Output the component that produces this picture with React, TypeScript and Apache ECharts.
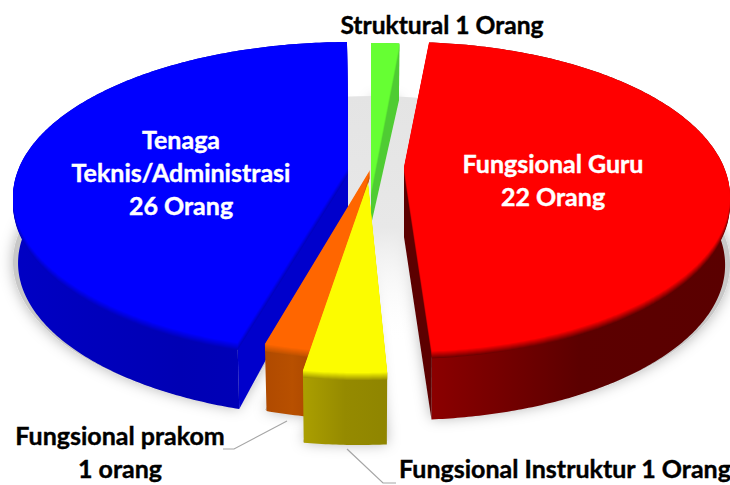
import React, { useEffect, useRef } from "react";
import * as echarts from "echarts";

// Clockwise from the back of the pie.
const categories = ["Fungsional Guru", "Fungsional Instruktur", "Fungsional prakom", "Tenaga Teknis/Administrasi", "Struktural"];
const values = [22, 1, 1, 26, 1];
const total = values.reduce((a, b) => a + b, 0);

// The reference is a stretched 3D picture: slices do not keep their true share of the circle.
const spanTrimDeg = [15.4, 7.64, 2.64, -23.53, -2.15];
const firstAngleDeg = 4.4;
const drawOrder = [3, 0, 4, 2, 1];

const apexX = [404, 368, 370, 348, 371];
const apexY = [167, 183, 170, 168, 190];
const ellipseCx = [404, 359, 375, 350, 374];
const ellipseCy = [197, 218, 198, 197, 198];
const ellipseRx = [326, 330, 330, 337, 330];
const ellipseRy = [155, 155, 155, 155, 155];
const rimDepth = [68, 72, 67, 66, 57];
const apexDepth = [70, 0, 0, 40, 35];
const bottomScale = 0.985;
const innerWall = ["end", "", "", "start", "end"];
const topColors = ["#ff0000", "#fcfc00", "#ff6600", "#0000ff", "#66ff33"];
const innerWallColors = ["#5c0000", "", "", "#0000cc", "#4fcc33"];
const rimStops = [
  ["#8c0000", "#5c0000", "#5a0000"],
  ["#ab9f00", "#958a00", "#8f8500"],
  ["#b04a00", "#b85000", "#a84500"],
  ["#0000c4", "#0000b4", "#0000bc"],
  ["#4fcc33", "#4fcc33", "#4fcc33"],
];

const spans = values.map((v, i) => (v / total) * 360 + spanTrimDeg[i]);
const starts = spans.map((_, i) => firstAngleDeg + spans.slice(0, i).reduce((a, b) => a + b, 0));

const rimPoint = (i: number, deg: number) => {
  const t = (deg * Math.PI) / 180;
  return [ellipseCx[i] + ellipseRx[i] * Math.sin(t), ellipseCy[i] - ellipseRy[i] * Math.cos(t)];
};
const rimPoints = (i: number) => {
  const n = Math.max(6, Math.ceil(spans[i] * 1.5));
  return Array.from({ length: n + 1 }, (_, k) => rimPoint(i, starts[i] + (spans[i] * k) / n));
};
const shift = (pts: number[][], d: number) => pts.map(([x, y]) => [x, y + d]);
const lowerRim = (i: number, rim: number[][]) =>
  rim.map(([x, y]) => [ellipseCx[i] + (x - ellipseCx[i]) * bottomScale, y + rimDepth[i]]);

const mix = (a: string, b: string, f: number) => {
  const p = (s: string, k: number) => parseInt(s.slice(1 + k * 2, 3 + k * 2), 16);
  const c = [0, 1, 2].map((k) => Math.round(p(a, k) + (p(b, k) - p(a, k)) * f));
  return `rgb(${c[0]},${c[1]},${c[2]})`;
};

const renderSlice = (_: any, api: any) => {
  const i = api.value(1);
  const rim = rimPoints(i);
  const low = lowerRim(i, rim);
  const apex = [apexX[i], apexY[i]];
  const children: any[] = [];
  const stops = rimStops[i];
  children.push({
    type: "polygon",
    shape: { points: [...rim, ...low.slice().reverse()] },
    style: {
      fill: {
        type: "linear", x: 0, y: 0, x2: 1, y2: 0,
        colorStops: [
          { offset: 0, color: stops[0] },
          { offset: 0.5, color: stops[1] },
          { offset: 1, color: stops[2] },
        ],
      },
    },
  });
  if (innerWall[i]) {
    const end = innerWall[i] === "end";
    const corner = end ? rim[rim.length - 1] : rim[0];
    const cornerLow = end ? low[low.length - 1] : low[0];
    children.push({
      type: "polygon",
      shape: { points: [apex, corner, cornerLow, [apex[0], apex[1] + apexDepth[i]]] },
      style: { fill: innerWallColors[i] },
    });
  }
  const face = [apex, ...rim];
  for (let d = 7; d >= 1; d--) {
    children.push({
      type: "polygon",
      shape: { points: shift(face, d) },
      style: { fill: mix(topColors[i], stops[1], d / 8) },
    });
  }
  children.push({ type: "polygon", shape: { points: face }, style: { fill: topColors[i] } });
  return { type: "group", children };
};

const renderShadow = (_: any, api: any) => {
  const i = api.value(1);
  const rim = rimPoints(i);
  const face = [[apexX[i], apexY[i]], ...rim];
  return {
    type: "polygon",
    shape: { points: shift(face, rimDepth[i] - 1) },
    style: { fill: "#c8c8c8", shadowBlur: 14, shadowColor: "rgba(0,0,0,0.3)" },
  };
};

// Grey plate seen only through the gaps between the slices; it fades out towards the front.
const renderGapPlate = () => ({
  type: "ellipse",
  shape: { cx: 374, cy: 242, rx: 290, ry: 146 },
  style: {
    fill: {
      type: "linear", x: 0, y: 0, x2: 0, y2: 1,
      colorStops: [
        { offset: 0, color: "#e4e4e4" },
        { offset: 0.45, color: "#e8e8e8" },
        { offset: 0.85, color: "rgba(255,255,255,0)" },
        { offset: 1, color: "rgba(255,255,255,0)" },
      ],
    },
  },
});

const labels = [
  { text: `Struktural ${values[4]} Orang`, x: 442, y: 24, fill: "#000", size: 24.6 },
  { text: `Tenaga\nTeknis/Administrasi\n${values[3]} Orang`, x: 181, y: 172, fill: "#fff", size: 25 },
  { text: `Fungsional Guru\n${values[0]} Orang`, x: 553, y: 179, fill: "#fff", size: 25 },
  { text: `Fungsional prakom\n${values[2]} orang`, x: 120, y: 451, fill: "#000", size: 25 },
  { text: `Fungsional Instruktur ${values[1]} Orang`, x: 565, y: 468, fill: "#000", size: 25 },
];
const leaderLines = [
  [[223, 449], [234, 449], [287, 421]],
  [[347, 449], [383, 483], [396, 483]],
];

export default function App() {
  const ref = useRef<HTMLDivElement>(null);
  useEffect(() => {
    document.body.style.margin = "0";
    const chart = echarts.init(ref.current!, undefined, { renderer: "svg" });
    const data = drawOrder.map((i) => [values[i], i, categories[i]]);
    chart.setOption({
      animation: false,
      backgroundColor: "#ffffff",
      series: [
        { type: "custom", coordinateSystem: "none", renderItem: renderShadow, data, silent: true, z: 1 },
        { type: "custom", coordinateSystem: "none", renderItem: renderGapPlate, data: [[0]], silent: true, z: 1.5 },
        { type: "custom", coordinateSystem: "none", renderItem: renderSlice, data, silent: true, z: 2 },
      ],
      graphic: [
        ...leaderLines.map((pts) => ({
          type: "polyline",
          z: 5,
          shape: { points: pts },
          style: { stroke: "#a6a6a6", lineWidth: 1.2, fill: "none" },
        })),
        ...labels.map((l) => ({
          type: "text",
          z: 6,
          x: l.x,
          y: l.y,
          style: {
            text: l.text,
            fill: l.fill,
            font: `bold ${l.size}px Lato`,
            lineHeight: 33,
            align: "center",
            verticalAlign: "middle",
            stroke: l.fill,
            lineWidth: 0.4,
          },
        })),
      ],
    });
    return () => chart.dispose();
  }, []);
  return <div ref={ref} style={{ position: "fixed", left: 0, top: 0, width: 730, height: 485 }} />;
}
